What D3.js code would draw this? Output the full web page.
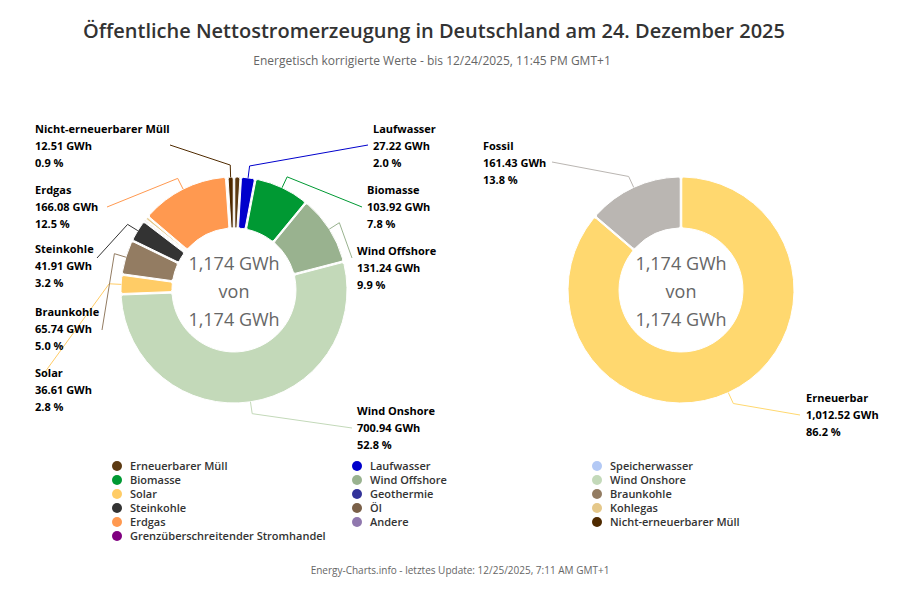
<!DOCTYPE html>
<html><head><meta charset="utf-8">
<script src="https://cdn.jsdelivr.net/npm/d3@7"></script>
<style>body{margin:0;background:#fff;font-family:"Open Sans",sans-serif}</style>
</head><body><svg id="c" width="921" height="600"></svg>
<script>
const names=["Erneuerbarer Müll","Laufwasser","Biomasse","Wind Offshore","Wind Onshore","Solar","Braunkohle","Steinkohle","Öl","Kohlegas","Erdgas","Andere","Nicht-erneuerbarer Müll"];
const values=[12.5,27.22,103.92,131.24,700.94,36.61,65.74,41.91,4,7,166.08,2,12.51];
const colors=["#5c3a12","#0000cc","#009933","#99b28f","#c3d9b9","#ffcc66","#937c62","#333333","#7a6048","#e5c88a","#ff9950","#9078ae","#4f2a00"];
const pctLabels={"Laufwasser":"2.0","Biomasse":"7.8","Wind Offshore":"9.9","Wind Onshore":"52.8","Solar":"2.8","Braunkohle":"5.0","Steinkohle":"3.2","Erdgas":"12.5","Nicht-erneuerbarer Müll":"0.9"};
// [textX, textTop, anchorX, anchorY]
const labelPos={"Nicht-erneuerbarer Müll":[35,129,170,145],"Erdgas":[35,190,107,207],"Steinkohle":[35,249,97,258],"Braunkohle":[35,312,102,330],"Solar":[35,373,45,372],"Laufwasser":[373,129,368,145],"Biomasse":[367,190,362,207],"Wind Offshore":[357,251,352,258],"Wind Onshore":[357,411,352,428]};
const rNames=["Erneuerbar","Fossil"];
const rValues=[1012.52,161.43];
const rColors=["#ffd86f","#bab6b2"];
const rPct=["86.2","13.8"];
const rLabelPos={"Fossil":[483,146,552,162],"Erneuerbar":[806,398,800,415]};
const legendNames=["Erneuerbarer Müll","Laufwasser","Speicherwasser","Biomasse","Wind Offshore","Wind Onshore","Solar","Geothermie","Braunkohle","Steinkohle","Öl","Kohlegas","Erdgas","Andere","Nicht-erneuerbarer Müll","Grenzüberschreitender Stromhandel"];
const legendColors=["#5c3a12","#0000cc","#b3c9f5","#009933","#99b28f","#c3d9b9","#ffcc66","#333399","#937c62","#333333","#7a6048","#e5c88a","#ff9950","#9078ae","#4f2a00","#800080"];

const svg=d3.select("#c");
svg.append("text").attr("x",434).attr("y",38).attr("text-anchor","middle").attr("font-size",20).attr("font-weight",600).attr("fill","#333").text("Öffentliche Nettostromerzeugung in Deutschland am 24. Dezember 2025");
svg.append("text").attr("x",432).attr("y",65).attr("text-anchor","middle").attr("font-size",12).attr("fill","#666").text("Energetisch korrigierte Werte - bis 12/24/2025, 11:45 PM GMT+1");
svg.append("text").attr("x",460).attr("y",574).attr("text-anchor","middle").attr("font-size",10).attr("fill","#666").text("Energy-Charts.info - letztes Update: 12/25/2025, 7:11 AM GMT+1");

function donut(cx,cy,nm,vals,cols,labelTexts,lpos){
  const g=svg.append("g").attr("transform",`translate(${cx},${cy})`);
  const pie=d3.pie().sort(null).value(d=>d)(vals);
  const R=113,r=62;
  const arc=d3.arc().innerRadius(r).outerRadius(R).padAngle(0.012).cornerRadius(2);
  g.selectAll("path.s").data(pie).join("path").attr("d",arc).attr("fill",(d,i)=>cols[i]).attr("stroke","#fff").attr("stroke-width",1);
  pie.forEach((d,i)=>{
    const n=nm[i]; if(!lpos[n])return;
    const [lx,ly,ax,ay]=lpos[n];
    const a=(d.startAngle+d.endAngle)/2;
    const p0=[Math.sin(a)*R,-Math.cos(a)*R];
    const p1=[Math.sin(a)*(R+12),-Math.cos(a)*(R+12)];
    g.append("polyline").attr("points",[[ax-cx,ay-cy],p1,p0].map(p=>p.join(",")).join(" ")).attr("fill","none").attr("stroke",cols[i]).attr("stroke-width",1);
    const t=svg.append("text").attr("x",lx).attr("y",ly+4).attr("font-size",11).attr("font-weight",700).attr("fill","#000");
    labelTexts(i).forEach((s,k)=>t.append("tspan").attr("x",lx).attr("dy",k?17:0).text(s));
  });
  ["1,174 GWh","von","1,174 GWh"].forEach((s,k)=>g.append("text").attr("y",-20+k*28).attr("text-anchor","middle").attr("font-size",18).attr("fill","#666").text(s));
}
const fmt=d3.format(",.2f");
donut(234,290,names,values,colors,i=>[names[i],fmt(values[i])+" GWh",pctLabels[names[i]]+" %"],labelPos);
donut(681,290,rNames,rValues,rColors,i=>[rNames[i],fmt(rValues[i])+" GWh",rPct[i]+" %"],rLabelPos);

const lg=svg.append("g");
legendNames.forEach((n,i)=>{
  const col=i%3,row=Math.floor(i/3);
  const x=[117,357,597][col],y=466+row*14;
  lg.append("circle").attr("cx",x).attr("cy",y).attr("r",5).attr("fill",legendColors[i]);
  lg.append("text").attr("x",x+13).attr("y",y+4).attr("font-size",11).attr("font-weight",600).attr("fill","#333").text(n);
});
</script></body></html>
